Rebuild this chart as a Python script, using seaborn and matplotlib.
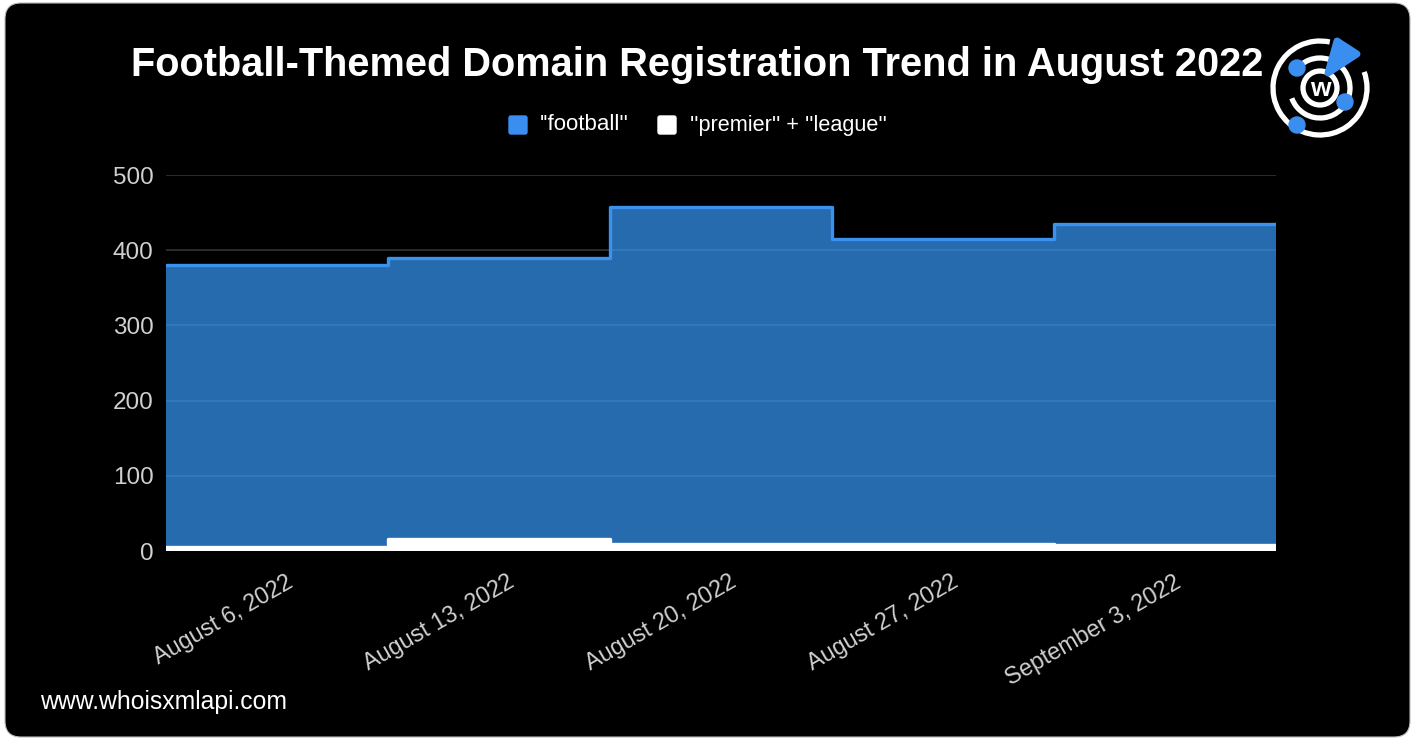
import numpy as np
import pandas as pd
import seaborn as sns
import matplotlib.pyplot as plt
import matplotlib.transforms as mtransforms
from matplotlib.patches import FancyBboxPatch, Arc, Circle, Polygon

weeks = ['August 6, 2022', 'August 13, 2022', 'August 20, 2022', 'August 27, 2022', 'September 3, 2022']
football = [380, 390, 457, 415, 435]
premier_league = [5, 16, 9, 9, 8]

sns.set_theme(style='dark')
plt.rcParams['font.family'] = ['Liberation Sans', 'DejaVu Sans']

# steps need one extra edge at the right end
x = np.arange(len(weeks) + 1)
df = pd.DataFrame({'x': x,
                   'football': football + [football[-1]],
                   'premier': premier_league + [premier_league[-1]]})

fig = plt.figure(figsize=(14.15, 7.39), dpi=100)
fig.patch.set_facecolor('white')

# background card + logo, pixel coords
bg = fig.add_axes([0, 0, 1, 1], zorder=-1)
bg.set_xlim(0, 1415)
bg.set_ylim(739, 0)
bg.axis('off')
bg.add_patch(FancyBboxPatch((5, 3), 1405, 734, boxstyle='round,pad=0,rounding_size=16',
                            facecolor='black', edgecolor='#bbbbbb', linewidth=0.8))
cx, cy = 1320, 88
bg.add_patch(Arc((cx, cy), 94, 94, theta1=-20, theta2=282, color='white', lw=3.8))
bg.add_patch(Arc((cx, cy), 60, 60, theta1=-150, theta2=160, color='white', lw=3.8))
bg.add_patch(Circle((cx, cy), 17, fill=False, edgecolor='white', lw=3.8))
bg.text(cx, cy + 1, 'w', color='white', fontsize=19, fontweight='bold', ha='center', va='center')
for dx, dy in [(1297, 68), (1345, 102), (1297, 125)]:
    bg.add_patch(Circle((dx, dy), 8, color='#3a8ef0', zorder=5))
bg.add_patch(Polygon([(1337, 41), (1357, 54), (1328, 73)], closed=True, facecolor='#3a8ef0',
                     edgecolor='#3a8ef0', lw=5, joinstyle='round'))
bg.text(40, 702, 'www.whoisxmlapi.com', color='white', fontsize=17.8, va='center')

ax = fig.add_axes([166 / 1415, 1 - 551 / 739, 1110 / 1415, 376 / 739])
ax.set_facecolor('none')

ax.fill_between(df['x'], 0, df['football'], step='post', color='#3899fa', alpha=0.7, lw=0, zorder=2)
sns.lineplot(data=df, x='x', y='football', drawstyle='steps-post', color='#3a92ee', lw=2.4,
             solid_joinstyle='round', ax=ax, zorder=3)
ax.fill_between(df['x'], 0, df['premier'], step='post', color='white', lw=0, zorder=4)
sns.lineplot(data=df, x='x', y='premier', drawstyle='steps-post', color='white', lw=2.4,
             solid_joinstyle='round', ax=ax, zorder=4)

ax.set_xlim(0, len(weeks))
ax.set_ylim(0, 500)
ax.set_yticks([0, 100, 200, 300, 400, 500])
ax.yaxis.grid(True, color='#333333', lw=1.2, zorder=1)
ax.xaxis.grid(False)
ax.set_axisbelow(True)
ax.set_xticks(np.arange(len(weeks)) + 0.5)
ax.set_xticklabels(weeks, rotation=30, ha='right', rotation_mode='anchor')
ax.tick_params(axis='y', colors='#d0d0d0', labelsize=17.5, length=0, pad=9)
ax.tick_params(axis='x', colors='#d0d0d0', labelsize=16.8, length=0, pad=14)
shift = mtransforms.ScaledTranslation(8 / 100, 0, fig.dpi_scale_trans)
for lab in ax.get_xticklabels():
    lab.set_transform(lab.get_transform() + shift)
ax.set_xlabel('')
ax.set_ylabel('')
for s in ax.spines.values():
    s.set_visible(False)

fig.text(0.4925, 1 - 65 / 739, 'Football-Themed Domain Registration Trend in August 2022',
         color='white', fontsize=28.6, fontweight='bold', ha='center', va='center')

# legend
bg.add_patch(FancyBboxPatch((509, 116), 18, 18, boxstyle='round,pad=0,rounding_size=2', color='#3a8ef0'))
bg.text(540, 125, "''football''", color='white', fontsize=16, va='center')
bg.add_patch(FancyBboxPatch((658, 116), 18, 18, boxstyle='round,pad=0,rounding_size=2', color='white'))
bg.text(690, 125, "''premier'' + ''league''", color='white', fontsize=15.6, va='center')

fig.savefig('out.png', dpi=100, facecolor='white')
